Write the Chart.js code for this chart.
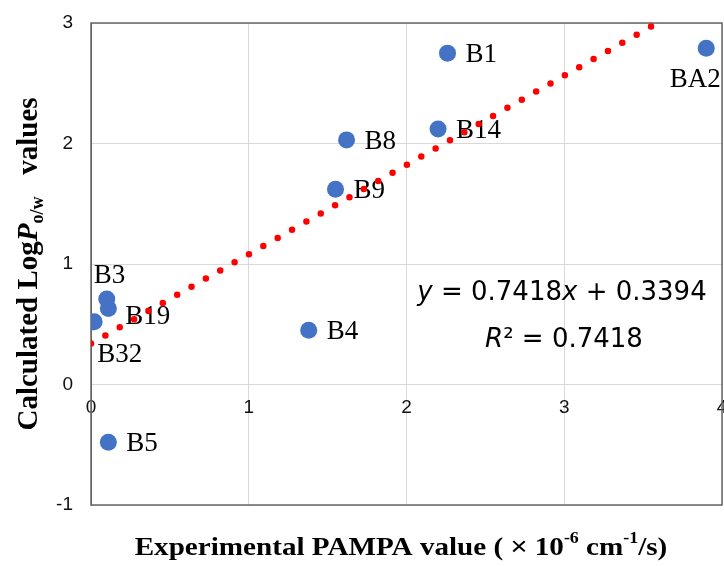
<!DOCTYPE html>
<html>
<head>
<meta charset="utf-8">
<script src="https://cdn.jsdelivr.net/npm/chart.js@4/dist/chart.umd.min.js"></script>
<style>
  html, body { margin: 0; padding: 0; background: #fff; }
  #wrap { width: 724px; height: 566px; position: relative; }
</style>
</head>
<body>
<div id="wrap"><canvas id="c"></canvas></div>
<script>
// compound names, PAMPA value (x) and calculated LogP o/w (y)
var names = ['B1', 'BA2', 'B8', 'B14', 'B9', 'B3', 'B19', 'B32', 'B4', 'B5'];
var pampa = [2.26, 3.90, 1.62, 2.20, 1.55, 0.10, 0.11, 0.02, 1.38, 0.11];
var logP  = [2.75, 2.79, 2.03, 2.12, 1.62, 0.71, 0.63, 0.52, 0.45, -0.48];

// linear trendline endpoints (y = 0.7418x + 0.3394)
var trendX = [0, 3.59];
var trendY = [0.34, 3.0];

var xTicks = [0, 1, 2, 3, 4];
var yTicks = [-1, 0, 1, 2, 3];

var BLUE = '#4472C4';
var RED = '#FF0000';
var SERIF = '"Liberation Serif", "Times New Roman", serif';
var SANS = '"Liberation Sans", Arial, sans-serif';
var EQ = '"DejaVu Sans", sans-serif';

// label placement relative to the point (style only)
var labelPos = {
  BA2: {dx: -11, dy: 32, align: 'center'},
  B3:  {dx: -13, dy: -23, align: 'left'},
  B19: {dx: 17, dy: 8, align: 'left'},
  B32: {dx: 3, dy: 33, align: 'left'}
};

var drawRich = function (ctx, parts, x, y, rot, sx) {
  var total = 0;
  parts.forEach(function (p) { ctx.font = p.font; p.w = ctx.measureText(p.t).width; total += p.w; });
  ctx.save();
  ctx.translate(x, y);
  if (rot) ctx.rotate(rot);
  if (sx) ctx.scale(sx, 1);
  ctx.textBaseline = 'middle';
  ctx.textAlign = 'left';
  ctx.fillStyle = '#000';
  var cx = -total / 2;
  parts.forEach(function (p) {
    ctx.font = p.font;
    ctx.fillText(p.t, cx, p.dy || 0);
    cx += p.w;
  });
  ctx.restore();
};

var pointLabels = {
  id: 'pointLabels',
  beforeDatasetsDraw: function (chart) {
    var ctx = chart.ctx, xs = chart.scales.x, ys = chart.scales.y;
    ctx.save();
    ctx.font = '27px ' + SERIF;
    ctx.fillStyle = '#000';
    ctx.textBaseline = 'middle';
    names.forEach(function (n, i) {
      var o = labelPos[n] || {dx: 18, dy: 2, align: 'left'};
      ctx.textAlign = o.align;
      ctx.fillText(n, xs.getPixelForValue(pampa[i]) + o.dx, ys.getPixelForValue(logP[i]) + o.dy);
    });
    ctx.restore();
  }
};

var frameAndText = {
  id: 'frameAndText',
  beforeDatasetsDraw: function (chart) {
    var ctx = chart.ctx, a = chart.chartArea;
    ctx.save();
    ctx.strokeStyle = '#666';
    ctx.lineWidth = 1.5;
    ctx.strokeRect(a.left, a.top, a.right - a.left, a.bottom - a.top);
    ctx.restore();
  },
  afterDraw: function (chart) {
    var ctx = chart.ctx;
    var b = 'bold 29px ' + SERIF;
    drawRich(ctx, [
      {t: 'Calculated Log', font: b},
      {t: 'P', font: 'italic bold 29px ' + SERIF},
      {t: 'o/w', font: 'bold 18px ' + SERIF, dy: 8},
      {t: '   values', font: b}
    ], 30, 264, -Math.PI / 2);
    var xb = 'bold 26px ' + SERIF;
    drawRich(ctx, [
      {t: 'Experimental PAMPA value ( ', font: xb},
      {t: '×', font: '26px ' + SANS},
      {t: ' 10', font: xb},
      {t: '-6', font: 'bold 16px ' + SERIF, dy: -9},
      {t: ' cm', font: xb},
      {t: '-1', font: 'bold 16px ' + SERIF, dy: -9},
      {t: '/s)', font: xb}
    ], 401, 548, 0, 1.12);
    drawRich(ctx, [
      {t: 'y', font: 'italic 26px ' + EQ},
      {t: ' = 0.7418', font: '26px ' + EQ},
      {t: 'x', font: 'italic 26px ' + EQ},
      {t: ' + 0.3394', font: '26px ' + EQ}
    ], 562, 293, 0);
    drawRich(ctx, [
      {t: 'R', font: 'italic 26px ' + EQ},
      {t: '²', font: '26px ' + EQ},
      {t: ' = 0.7418', font: '26px ' + EQ}
    ], 564, 340, 0);
  }
};

var tickFont = {family: SANS, size: 19};

new Chart(document.getElementById('c'), {
  type: 'scatter',
  data: {
    datasets: [{
      type: 'line',
      data: trendX.map(function (x, i) { return {x: x, y: trendY[i]}; }),
      borderColor: RED, borderWidth: 6.5,
      borderDash: [0, 16.5], borderCapStyle: 'round',
      pointRadius: 0, fill: false, tension: 0
    }, {
      data: pampa.map(function (x, i) { return {x: x, y: logP[i]}; }),
      backgroundColor: BLUE, borderColor: BLUE,
      pointRadius: 8.5, pointHoverRadius: 8.5, borderWidth: 0
    }]
  },
  plugins: [frameAndText, pointLabels],
  options: {
    responsive: true, maintainAspectRatio: false,
    animation: false,
    layout: {autoPadding: false, padding: {top: 23, right: 2, bottom: 61, left: 0}},
    plugins: {legend: {display: false}, tooltip: {enabled: false}},
    scales: {
      x: {
        type: 'linear', min: 0, max: 4,
        position: {y: 0},
        afterFit: function (s) { s.height = 0; s.paddingLeft = 0; s.paddingRight = 0; },
        afterBuildTicks: function (s) { s.ticks = xTicks.map(function (v) { return {value: v}; }); },
        ticks: {color: '#111', font: tickFont, padding: 12, maxRotation: 0},
        grid: {color: '#d9d9d9', lineWidth: 1, drawTicks: false},
        border: {color: '#d9d9d9'}
      },
      y: {
        type: 'linear', min: -1, max: 3,
        afterFit: function (s) { s.width = 91; s.paddingTop = 0; s.paddingBottom = 0; },
        afterBuildTicks: function (s) { s.ticks = yTicks.map(function (v) { return {value: v}; }); },
        ticks: {color: '#111', font: tickFont, padding: 18},
        grid: {color: '#d9d9d9', lineWidth: 1, drawTicks: false},
        border: {color: '#666'}
      }
    }
  }
});
</script>
</body>
</html>
